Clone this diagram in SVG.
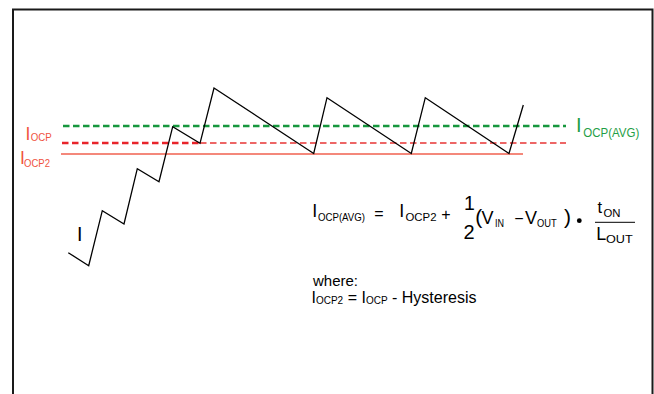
<svg xmlns="http://www.w3.org/2000/svg" width="654" height="394" viewBox="0 0 654 394">
<style>
text{font-family:"Liberation Sans",Arial,sans-serif;fill:#000}
.red{fill:#f0533f}
.grn{fill:#1f9e46}
.wave{fill:none;stroke:#000;stroke-width:1.3;stroke-linejoin:miter}
</style>
<rect x="0" y="0" width="654" height="394" fill="#fff"/>
<g id="frame">
<path d="M13 394 V9.5 H652.5 V394" fill="none" stroke="#1a1a1a" stroke-width="2"/>
</g>
<g id="levels">
<line x1="63" y1="126" x2="566" y2="126" stroke="#16973d" stroke-width="2.5" stroke-dasharray="6.5 3.5"/>
<line x1="62" y1="143" x2="200" y2="143" stroke="#e8232a" stroke-width="2.5" stroke-dasharray="6.5 3.5"/>
<line x1="200" y1="143" x2="566" y2="143" stroke="#e83434" stroke-width="1.3" stroke-dasharray="6.5 3.5"/>
<line x1="61" y1="154" x2="523" y2="154" stroke="#f0604f" stroke-width="1.6"/>
</g>
<g id="waveform">
<polyline class="wave" points="68.3,252.7 88.7,265.7 102.3,210.7 124,224 137.3,168.7 159,181.7 172.7,126.7 200,143.3 214,88 313.7,153.5 327,97.7 411.3,153.5 425.3,97.7 509,153.5 523.3,105"/>
<text x="77" y="240.7" font-size="19.5">I</text>
</g>
<g id="labels">
<text class="red" x="25.6" y="140.3" font-size="17.5">I</text>
<text class="red" x="30.7" y="141.3" font-size="11.5" textLength="21" lengthAdjust="spacingAndGlyphs">OCP</text>
<text class="red" x="20" y="164" font-size="17.5">I</text>
<text class="red" x="24" y="166.7" font-size="11.5" textLength="26" lengthAdjust="spacingAndGlyphs">OCP2</text>
<text class="grn" x="576" y="132" font-size="20">I</text>
<text class="grn" x="583.3" y="136.5" font-size="12.5" textLength="56" lengthAdjust="spacingAndGlyphs">OCP(AVG)</text>
</g>
<g id="equation">
<text x="312.3" y="217.3" font-size="18">I</text>
<text x="318" y="221" font-size="11.5" textLength="47" lengthAdjust="spacingAndGlyphs">OCP(AVG)</text>
<text x="379" y="219" font-size="16" text-anchor="middle">=</text>
<text x="399.3" y="217.3" font-size="18">I</text>
<text x="405.5" y="221" font-size="11.5" textLength="31" lengthAdjust="spacingAndGlyphs">OCP2</text>
<text x="446" y="219.5" font-size="16" text-anchor="middle">+</text>
<text x="469.5" y="210" font-size="19.5" text-anchor="middle">1</text>
<text x="469" y="239.3" font-size="20" text-anchor="middle">2</text>
<text x="475.3" y="224" font-size="21">(</text>
<text x="481.5" y="224.3" font-size="18">V</text>
<text x="495" y="227.3" font-size="11" textLength="9" lengthAdjust="spacingAndGlyphs">IN</text>
<text x="518.8" y="224" font-size="16" text-anchor="middle">−</text>
<text x="525" y="224.3" font-size="18">V</text>
<text x="537" y="227.3" font-size="11" textLength="19.7" lengthAdjust="spacingAndGlyphs">OUT</text>
<text x="564" y="224" font-size="21">)</text>
<circle cx="579.3" cy="220.7" r="2.4" fill="#000"/>
<text x="597.5" y="212.7" font-size="16.5">t</text>
<text x="603.5" y="217" font-size="10.5" textLength="17" lengthAdjust="spacingAndGlyphs">ON</text>
<line x1="595" y1="222.3" x2="635" y2="222.3" stroke="#000" stroke-width="1"/>
<text x="596.3" y="240" font-size="18">L</text>
<text x="606" y="242.7" font-size="11.5" textLength="26.7" lengthAdjust="spacingAndGlyphs">OUT</text>
<text x="313" y="286" font-size="15">where:</text>
<text x="311.5" y="302.7" font-size="16">I<tspan font-size="10" dy="1">OCP2</tspan><tspan dy="-1"> = I</tspan><tspan font-size="10" dy="1">OCP</tspan><tspan dy="-1"> - Hysteresis</tspan></text>
</g>
</svg>
